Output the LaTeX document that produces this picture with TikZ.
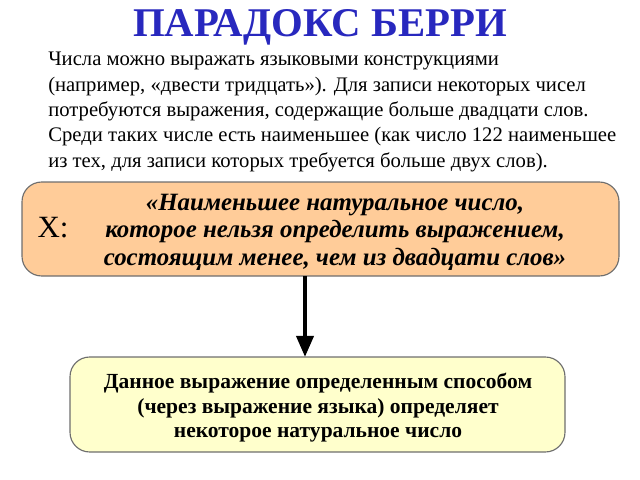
\documentclass[tikz,border=0pt]{standalone}
\usepackage{fontspec}
\setmainfont{Liberation Serif}
\usetikzlibrary{arrows.meta,positioning}
\definecolor{titleblue}{RGB}{40,40,190}
\definecolor{peach}{RGB}{255,204,153}
\definecolor{paleyellow}{RGB}{255,255,204}
\definecolor{edgegray}{RGB}{110,110,110}
\tikzset{
  bigbox/.style={draw=edgegray, line width=0.8pt, rounded corners=14pt},
  boxtext/.style={align=center, font=\fontsize{15.3}{17.4}\selectfont\bfseries}
}

\begin{document}
\begin{tikzpicture}[x=0.025cm,y=-0.025cm]
	\useasboundingbox (0,0) rectangle (640,480);
	% title
	\node[text=titleblue, font=\fontsize{29}{32}\selectfont\bfseries] (title) at (320,27) {ПАРАДОКС БЕРРИ};
	% paragraph
	\node[anchor=north west, align=left, inner sep=0pt, font=\fontsize{14.7}{18}\selectfont] (intro) at (48,52)
	{Числа можно выражать языковыми конструкциями\\
	(например, «двести тридцать»). Для записи некоторых чисел\\
	потребуются выражения, содержащие больше двадцати слов.\\
	Среди таких числе есть наименьшее (как число 122 наименьшее\\
	из тех, для записи которых требуется больше двух слов).};
	% upper box
	\draw[bigbox, fill=peach] (22,182) rectangle (619,276);
	\node[font=\fontsize{22}{24}\selectfont] (xname) at (53,228) {X:};
	\node[boxtext, font=\fontsize{17.7}{19.5}\selectfont\bfseries\itshape] (phrase) at (335,232)
	{«Наименьшее натуральное число,\\
	которое нельзя определить выражением,\\
	состоящим менее, чем из двадцати слов»};
	% lower box
	\draw[bigbox, fill=paleyellow] (70,357) rectangle (565,452);
	\node[boxtext] (claim) at (318,408)
	{Данное выражение определенным способом\\
	(через выражение языка) определяет\\
	некоторое натуральное число};
	\coordinate (top) at (305,276);
	\coordinate (bot) at (305,357);
	\draw[line width=3pt, -{Triangle[length=15pt,width=12pt]}] (top) -- (bot);
\end{tikzpicture}
\end{document}
